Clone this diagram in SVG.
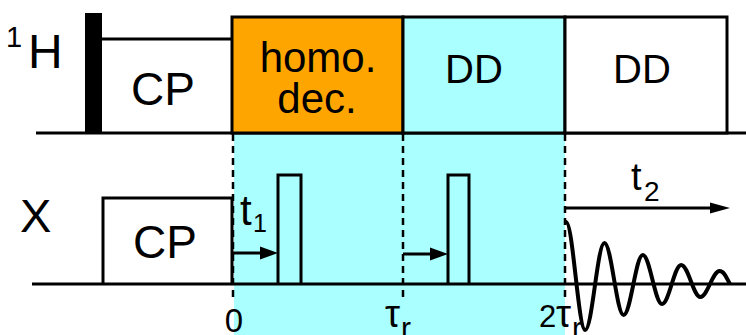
<svg xmlns="http://www.w3.org/2000/svg" width="746" height="335" viewBox="0 0 746 335">
  <style>
    .ln { stroke: #000; stroke-width: 3; fill: none; }
    .box { stroke: #000; stroke-width: 3; }
    .dash { stroke: #000; stroke-width: 2.5; stroke-dasharray: 7 5; fill: none; }
    .arr { stroke: #000; stroke-width: 3; fill: none; }
    text { font-family: "Liberation Sans", Arial, Helvetica, sans-serif; fill: #000; }
    .big { font-size: 46px; }
    .mid { text-anchor: middle; }
  </style>
  <defs>
    <marker id="ah" markerUnits="userSpaceOnUse" markerWidth="18" markerHeight="14" refX="8" refY="7" orient="auto">
      <path d="M0,0.5 L18,7 L0,13.5 z" fill="#000"/>
    </marker>
    <marker id="ah2" markerUnits="userSpaceOnUse" markerWidth="20" markerHeight="12" refX="10" refY="6" orient="auto">
      <path d="M0,0.5 L20,6 L0,11.5 z" fill="#000"/>
    </marker>
  </defs>

  <rect id="window-cyan" x="234" y="133" width="331" height="202" fill="#aaffff"/>

  <g id="channel-1H">
    <line class="ln" x1="36" y1="133" x2="746" y2="133"/>
    <text x="6" y="47" font-size="29">1</text>
    <text x="28" y="68" font-size="48">H</text>
  </g>
  <g id="pulse-H90">
    <rect x="85" y="13" width="17" height="120" fill="#000"/>
  </g>
  <g id="block-H-CP">
    <path class="ln" d="M102,39 H232"/>
    <text class="big mid" x="163" y="105">CP</text>
  </g>
  <g id="block-homo">
    <rect class="box" x="232" y="17" width="171" height="116" fill="#ffa500"/>
    <text class="mid" x="318" y="72" font-size="42">homo.</text>
    <text class="mid" x="317" y="113" font-size="42">dec.</text>
  </g>
  <g id="block-DD1">
    <rect class="box" x="403" y="17" width="162" height="116" fill="#aaffff"/>
    <text class="mid" x="474" y="83" font-size="40">DD</text>
  </g>
  <g id="block-DD2">
    <rect class="box" x="565" y="17" width="162" height="116" fill="#ffffff"/>
    <text class="mid" x="642" y="83" font-size="40">DD</text>
  </g>

  <g id="channel-X">
    <line class="ln" x1="32" y1="284" x2="746" y2="284"/>
    <text x="20" y="232" font-size="47">X</text>
  </g>
  <g id="block-X-CP">
    <path class="ln" d="M103,284 V198 H232 V284"/>
    <text class="big mid" x="165" y="258">CP</text>
  </g>
  <g id="pulse-X1">
    <path class="ln" d="M278,284 V175 H301 V284"/>
  </g>
  <g id="pulse-X2">
    <path class="ln" d="M448,284 V175 H469 V284"/>
  </g>
  <g id="fid">
    <path d="M566,222 C573,222 578.2,330 585.2,330 C592.2,330 597.4,243 604.4,243 C611.4,243 616.6,315 623.6,315 C630.6,315 635.8,255 642.8,255 C649.8,255 655,304 662,304 C669,304 674.2,265 681.2,265 C688.2,265 693.4,297 700.4,297 C707.4,297 712.6,271 719.6,271 C724.5,271 727,279 730,284" stroke="#000" stroke-width="4" fill="none"/>
  </g>

  <g id="connectors">
    <line class="dash" x1="233" y1="134" x2="233" y2="298"/>
    <line class="dash" x1="403" y1="134" x2="403" y2="298"/>
    <line class="dash" x1="565" y1="134" x2="565" y2="298"/>
    <line class="arr" x1="233" y1="253" x2="268" y2="253" marker-end="url(#ah)"/>
    <line class="arr" x1="403" y1="254" x2="438" y2="254" marker-end="url(#ah)"/>
    <line class="arr" x1="566" y1="208" x2="720" y2="208" marker-end="url(#ah2)"/>
  </g>

  <g id="labels">
    <text x="240" y="225" font-size="42">t</text>
    <text x="253" y="232" font-size="25">1</text>
    <text x="631" y="190" font-size="38">t</text>
    <text x="644" y="201" font-size="28">2</text>
    <text class="mid" x="234" y="332" font-size="33">0</text>
    <text x="385" y="327" font-size="38">τ</text>
    <text x="401" y="338" font-size="30">r</text>
    <text x="539" y="327" font-size="31">2</text>
    <text x="556" y="327" font-size="38">τ</text>
    <text x="572" y="338" font-size="30">r</text>
  </g>
</svg>
